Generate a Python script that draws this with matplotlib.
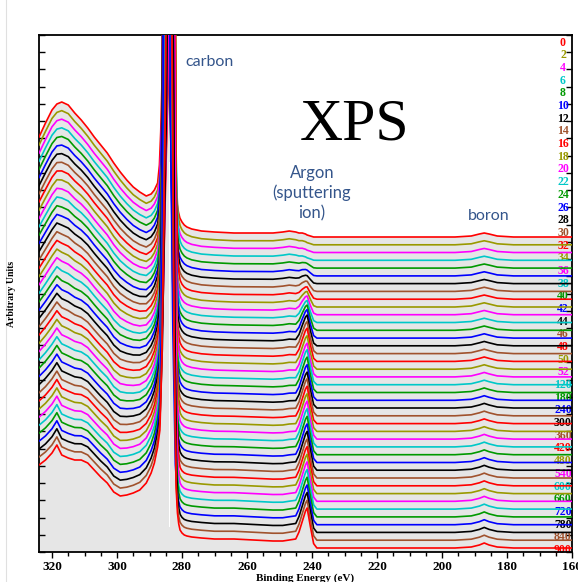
import numpy as np
import matplotlib
matplotlib.use("Agg")
import matplotlib.pyplot as plt
from matplotlib.lines import Line2D

# ---------------- data (y in pixel-like arbitrary units) -------------
energy = [324, 322, 320, 318.5, 317, 315, 313, 311, 309, 307, 305, 303, 301, 299, 297, 295,
          293, 291, 289.5, 288.5, 287.5, 286.8, 286.2, 285.6, 285.1, 284.6, 284.0, 283.4,
          282.9, 282.4, 281.8, 281.4, 281.0, 280.6, 280.0, 279.3, 278.5, 277, 274, 270,
          264, 258, 252, 249, 247, 245, 244, 243, 242, 241.5, 240.5, 239.5, 238.5, 235,
          225, 215, 205, 196, 191, 188.5, 187, 185.5, 183, 178, 170, 160]

# first spectrum (0) above its own baseline
profile_top = [100, 114, 127, 133, 135, 132, 124, 117, 109, 100, 92, 84, 74, 65, 57, 50,
               45, 41, 43, 47, 54, 72, 105, 150, 190, 420, 800, 420,
               190, 110, 60, 35, 25, 19, 15, 12, 10, 8, 6, 5,
               4, 4, 4, 5, 6, 5, 4, 4, 3, 2, 1, 0, 0, 0,
               0, 0, 0, 0, 1, 3, 4, 3, 1, 0, 0, 0]

# last spectrum (900) above its own baseline
profile_bottom = [83, 88, 95, 103, 93, 90, 88, 88, 85, 78, 71, 65, 56, 52, 53, 55,
                  58, 65, 75, 85, 101, 118, 185, 320, 440, 680, 900, 680,
                  440, 200, 60, 35, 24, 18, 15, 13, 12, 11, 10, 9,
                  9, 8, 7, 7, 8, 9, 10, 10, 10, 10, 8, 2, 0, 0,
                  0, 0, 0, 0, 1, 3, 5, 3, 1, 0, 0, 0]

# shape of the Ar 2p peak (unit height)
argon_shape = [0] * 45 + [0.0, 0.2, 0.55, 0.9, 1.0, 0.45, 0.08, 0.0, 0] + [0] * 12

# where the carbon-peak displacement applies
carbon_window = [0] * 20 + [0, 0.15, 0.35, 0.6, 1, 1, 1, 1, 1, 0.6, 0.35, 0.2, 0.1, 0.05, 0] + [0] * 31

labels = ['0', '2', '4', '6', '8', '10', '12', '14', '16', '18', '20', '22', '24', '26',
          '28', '30', '32', '34', '36', '38', '40', '42', '44', '46', '48', '50', '52',
          '120', '180', '240', '300', '360', '420', '480', '540', '600', '660', '720',
          '780', '840', '900']

baselines = [315, 307.2, 299.5, 291.7, 283.9, 276.1, 268.4, 260.6, 252.8, 245.0, 237.3,
             229.5, 221.7, 213.9, 206.2, 198.4, 190.6, 182.8, 175.1, 167.3, 159.5, 151.7,
             144.0, 136.2, 128.4, 120.6, 112.9, 105.1, 97.3, 89.5, 81.8, 74.0, 66.2, 58.4,
             50.7, 42.9, 35.1, 27.3, 19.6, 11.8, 4.0]

shape_mix = [0, .02, .04, .06, .08, .10, .12, .14, .16, .19, .22, .25, .28, .31, .34, .37,
             .40, .43, .46, .50, .55, .58, .61, .64, .67, .70, .73, .76, .79, .82, .85, .87,
             .89, .91, .93, .95, .96, .97, .98, .99, 1.0]

argon_height = [0, 0, 0, 0, 2, 3, 5, 7, 9, 12, 15, 18, 21, 24, 26, 27, 28, 28, 28, 29,
                29, 29, 29, 30, 30, 30, 30, 30, 30, 30, 30, 30, 30, 30, 30, 30, 30, 30,
                30, 30, 30]

carbon_shift = [1.0, -0.4, 0.6, -0.9, 0.2, 0.9, -0.6, 0.3, -1.0, 0.5, 0.0, -0.3, 0.8, -0.7,
                0.2, 1.0, -0.1, 0.4, -0.8, 0.6, -0.2, 0.1, 0.9, -0.5, 0.3, -1.0, 0.0, 0.5,
                -0.3, 0.8, -0.6, 0.2, -0.9, 0.6, -0.7, 0.4, -0.2, 0.7, -0.4, 0.1, 0.0]

palette = ['#ff0000', '#999900', '#ff00ff', '#00c8c8', '#009900', '#0000ff', '#000000', '#a0522d']

# ---------------- figure ----------------
W, H = 578, 582
fig = plt.figure(figsize=(W / 100, H / 100), dpi=100)
ax = fig.add_axes([39 / W, 1 - 552 / H, 533 / W, 517 / H])

E = np.array(energy, float)
T = np.array(profile_top, float)
B = np.array(profile_bottom, float)
A = np.array(argon_shape, float)
M = np.array(carbon_window, float)

n = len(labels)
curves = []
for i in range(n):
    x = E + carbon_shift[i] * M
    y = baselines[i] + (1 - shape_mix[i]) * T + shape_mix[i] * B + argon_height[i] * A
    curves.append((x, y))
    ax.fill_between(x, y, 0, color='#e6e6e6', lw=0, zorder=1)

# thin light gap inside the carbon cluster
ax.fill_between([284.15, 283.6], [25, 25], [390, 390], color='white', lw=0, zorder=1.5)

for i, (x, y) in enumerate(curves):
    ax.plot(x, y, color=palette[i % 8], lw=1.2, zorder=3 + i * 0.01)

serif = ['Liberation Serif', 'DejaVu Serif']
for i, lab in enumerate(labels):
    ypx = 42.7 + 12.68 * i
    ax.text((563 - 39) / 533, (552 - ypx) / 517, lab, transform=ax.transAxes,
            ha='center', va='center', fontsize=8.5, fontweight='bold', family=serif,
            color=palette[i % 8], zorder=2)

ax.set_xlim(324, 160)
ax.set_ylim(0, 517)
ax.set_xticks(np.arange(320, 159, -20))
ax.set_xticks(np.arange(320, 159, -5), minor=True)
ax.tick_params(axis='x', which='both', direction='out', width=1, bottom=True, top=False,
               labelsize=9.5, pad=2.5)
ax.tick_params(axis='x', which='major', length=4)
ax.tick_params(axis='x', which='minor', length=3)
for lab in ax.get_xticklabels():
    lab.set_fontweight('bold')
    lab.set_family(serif)
ax.set_yticks(np.linspace(0, 517, 31))
ax.tick_params(axis='y', which='both', direction='in', length=4, width=1, left=True,
               right=True, labelleft=False)
for s in ax.spines.values():
    s.set_linewidth(1.3)

ax.set_xlabel('Binding Energy (eV)', fontsize=8, fontweight='bold', family=serif, labelpad=0.5)
fig.text(12 / W, 1 - 294 / H, 'Arbitrary Units', rotation=90, ha='center', va='center',
         fontsize=7, fontweight='bold', family=serif)

blue = '#34558b'
sans = ['Lato', 'DejaVu Sans']
fig.text(210 / W, 1 - 62 / H, 'carbon', ha='center', va='center', fontsize=11.5,
         color=blue, family=sans)
fig.text(312 / W, 1 - 193 / H, 'Argon\n(sputtering\nion)', ha='center', va='center',
         fontsize=12, color=blue, family=sans, linespacing=1.3)
fig.text(489 / W, 1 - 216 / H, 'boron', ha='center', va='center', fontsize=11.5,
         color=blue, family=sans)
fig.text(355 / W, 1 - 126 / H, 'XPS', ha='center', va='center', fontsize=43,
         color='black', family=serif)

fig.add_artist(Line2D([6 / W, 6 / W], [0, 1], color='#e0e0e0', lw=0.8))

fig.savefig('out.png', dpi=100)
